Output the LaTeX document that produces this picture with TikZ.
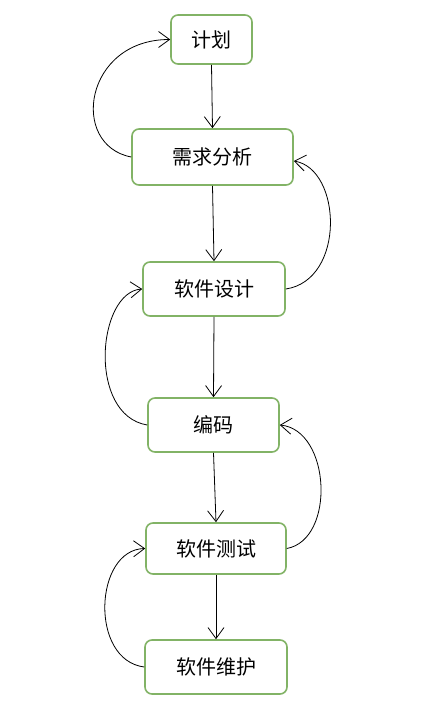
\documentclass[tikz,border=0pt]{standalone}
\usepackage{fontspec}
\setmainfont{Noto Sans CJK SC}
\usetikzlibrary{arrows.meta}
\definecolor{boxgreen}{RGB}{130,179,102}
\begin{document}
\begin{tikzpicture}[x=1pt,y=-1pt,
  box/.style={draw=boxgreen, line width=1.6pt, rounded corners=7pt, fill=white, font=\fontsize{20}{23}\selectfont, inner sep=0pt},
  arr/.style={draw=black, line width=0.8pt, -{Straight Barb[length=11pt,width=16pt,line width=0.8pt]}}]
\useasboundingbox (0,0) rectangle (423,715);
\node[box, minimum width=81pt, minimum height=49pt] (a) at (211.5,39.5) {计划};
\node[box, minimum width=161pt, minimum height=56pt] (b) at (212.5,157) {需求分析};
\node[box, minimum width=142pt, minimum height=54pt] (c) at (214,289) {软件设计};
\node[box, minimum width=131pt, minimum height=54pt] (d) at (213.5,425) {编码};
\node[box, minimum width=140pt, minimum height=51pt] (e) at (216,548.5) {软件测试};
\node[box, minimum width=142pt, minimum height=54pt] (f) at (216,667) {软件维护};
\draw[arr] (a.south) -- (b.north);
\draw[arr] (b.south) -- (c.north);
\draw[arr] (c.south) -- (d.north);
\draw[arr] (d.south) -- (e.north);
\draw[arr] (e.south) -- (f.north);
\draw[arr] (b.west) .. controls +(-62,-12) and +(-86,0) .. (a.west);
\draw[arr] (c.east) .. controls +(60,-9) and +(48,8) .. ([yshift=-4pt]b.east);
\draw[arr] (d.west) .. controls +(-60,-10) and +(-45,3) .. (c.west);
\draw[arr] (e.east) .. controls +(49,-9) and +(51,5) .. (d.east);
\draw[arr] (f.west) .. controls +(-55,-7) and +(-51,1) .. (e.west);
\end{tikzpicture}
\end{document}
